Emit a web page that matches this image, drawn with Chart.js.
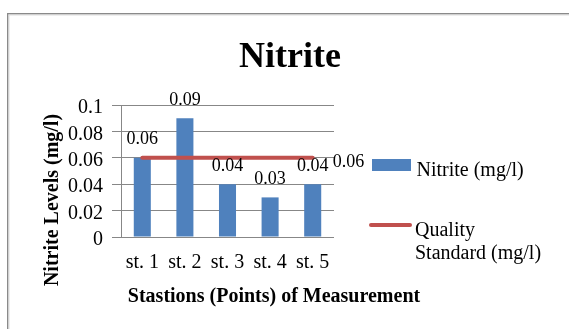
<!DOCTYPE html>
<html>
<head>
<meta charset="utf-8">
<script src="https://cdn.jsdelivr.net/npm/chart.js@4.4.1/dist/chart.umd.min.js"></script>
<style>
    html, body { margin: 0; padding: 0; background: #fff; }
    canvas { display: block; }
</style>
</head>
<body>
<canvas id="nitriteChart" width="569" height="329"></canvas>
<script>
    const stations = ['st. 1', 'st. 2', 'st. 3', 'st. 4', 'st. 5'];
    const nitriteLevels = [0.06, 0.09, 0.04, 0.03, 0.04];
    const qualityStandard = [0.06, 0.06, 0.06, 0.06, 0.06];
    const yTickLabels = ['0', '0.02', '0.04', '0.06', '0.08', '0.1'];
    const nitriteLabel = 'Nitrite (mg/l)';
    const standardLabel = ['Quality', 'Standard (mg/l)'];

    const SERIF = "'Liberation Serif', 'Times New Roman', serif";
    const BLUE = '#4f81bd';
    const RED = '#c0504d';
    const GRID = '#878787';

    // frame, title, axis titles, legend and value labels (Excel look)
    const decorPlugin = {
        id: 'decor',
        afterDraw(chart) {
            const ctx = chart.ctx;
            ctx.save();

            // outer frame (only top and left are visible)
            ctx.fillStyle = '#8a8a8a';
            ctx.fillRect(7, 13, chart.width - 7, 1.5);
            ctx.fillRect(7, 13, 1.5, chart.height - 13);
            ctx.fillStyle = '#dddddd';
            ctx.fillRect(8.5, 14.5, chart.width, 1);
            ctx.fillRect(8.5, 14.5, 1, chart.height);

            ctx.fillStyle = '#000';
            ctx.textAlign = 'center';
            ctx.textBaseline = 'alphabetic';
            ctx.font = `bold 36px ${SERIF}`;
            ctx.fillText('Nitrite', 290, 67);

            ctx.font = `bold 20px ${SERIF}`;
            ctx.fillText('Stastions (Points) of Measurement', 274, 302);
            ctx.save();
            ctx.translate(58, 200);
            ctx.rotate(-Math.PI / 2);
            ctx.fillText('Nitrite Levels (mg/l)', 0, 0);
            ctx.restore();

            // value labels
            ctx.font = `18px ${SERIF}`;
            chart.data.datasets.forEach((ds, di) => {
                const meta = chart.getDatasetMeta(di);
                if (ds.type === 'bar') {
                    meta.data.forEach((bar, i) => {
                        ctx.textAlign = 'center';
                        ctx.fillText(String(ds.data[i]), bar.x, bar.y - 13.5);
                    });
                } else {
                    const last = meta.data[meta.data.length - 1];
                    ctx.textAlign = 'left';
                    ctx.fillText(String(ds.data[ds.data.length - 1]), last.x + 20, last.y + 9);
                }
            });

            // legend
            ctx.textAlign = 'left';
            ctx.font = `20px ${SERIF}`;
            ctx.fillStyle = BLUE;
            ctx.fillRect(372, 159, 39, 12);
            ctx.fillStyle = '#000';
            ctx.fillText(nitriteLabel, 416.5, 176);

            ctx.strokeStyle = RED;
            ctx.lineWidth = 4;
            ctx.lineCap = 'round';
            ctx.beginPath();
            ctx.moveTo(371, 225);
            ctx.lineTo(410, 225);
            ctx.stroke();
            standardLabel.forEach((line, i) => {
                ctx.fillText(line, 415, 236 + i * 23);
            });

            ctx.restore();
        }
    };

    new Chart(document.getElementById('nitriteChart'), {
        data: {
            labels: stations,
            datasets: [
                {
                    type: 'line',
                    label: standardLabel.join(' '),
                    data: qualityStandard,
                    borderColor: RED,
                    borderWidth: 4,
                    borderCapStyle: 'round',
                    pointRadius: 0,
                    order: 0
                },
                {
                    type: 'bar',
                    label: nitriteLabel,
                    data: nitriteLevels,
                    backgroundColor: BLUE,
                    barPercentage: 0.4,
                    categoryPercentage: 1,
                    order: 1
                }
            ]
        },
        options: {
            responsive: false,
            animation: false,
            layout: { padding: { left: 8, top: 105, right: 235, bottom: 0 } },
            plugins: {
                legend: { display: false },
                title: { display: false },
                tooltip: { enabled: false }
            },
            scales: {
                x: {
                    grid: { display: false, drawTicks: false },
                    border: { display: false },
                    ticks: { padding: 14, color: '#000', font: { family: SERIF, size: 20 } },
                    afterFit(scale) { scale.height = 92; }
                },
                y: {
                    min: 0,
                    max: 0.1,
                    ticks: {
                        stepSize: 0.02,
                        autoSkip: false,
                        padding: 9,
                        labelOffset: 3,
                        color: '#000',
                        font: { family: SERIF, size: 20 },
                        callback: (value, index) => yTickLabels[index]
                    },
                    grid: { color: GRID, tickLength: 9 },
                    border: { color: GRID },
                    afterFit(scale) { scale.width = 113; }
                }
            }
        },
        plugins: [decorPlugin]
    });
</script>
</body>
</html>
